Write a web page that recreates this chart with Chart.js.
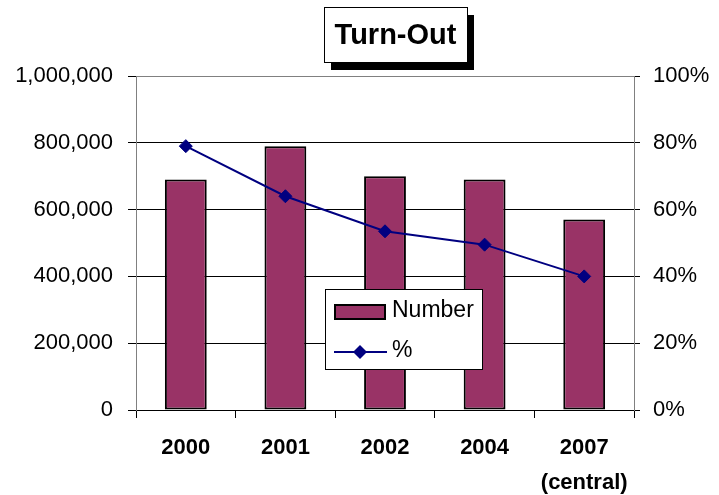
<!DOCTYPE html>
<html>
<head>
<meta charset="utf-8">
<script src="https://cdn.jsdelivr.net/npm/chart.js@4/dist/chart.umd.min.js"></script>
<style>
html,body{margin:0;padding:0;background:#fff;}
#wrap{width:719px;height:495px;position:relative;}
</style>
</head>
<body>
<div id="wrap"><canvas id="c" width="719" height="495"></canvas></div>
<script>
const categories = ['2000', '2001', '2002', '2004', ['2007', '(central)']];
const numberValues = [690000, 790000, 700000, 690000, 570000];
const percentValues = [79, 64, 53.5, 49.5, 40];
const leftTicks = [0, 200000, 400000, 600000, 800000, 1000000];
const rightTicks = [0, 20, 40, 60, 80, 100];
const titleText = 'Turn-Out';
const seriesNames = ['Number', '%'];

const FONT = "'Liberation Sans', Arial, sans-serif";
const PLUM = '#993366';
const NAVY = '#000080';

const titleAndLegend = {
  id: 'titleAndLegend',
  afterDraw(chart) {
    const ctx = chart.ctx;
    ctx.save();
    // Title box with shadow
    const tx = 324, ty = 7, tw = 143, th = 55;
    ctx.fillStyle = '#000';
    ctx.fillRect(tx + 7, ty + 8, tw, th);
    ctx.fillStyle = '#fff';
    ctx.fillRect(tx, ty, tw, th);
    ctx.strokeStyle = '#000';
    ctx.lineWidth = 1;
    ctx.strokeRect(tx + 0.5, ty + 0.5, tw, th);
    ctx.fillStyle = '#000';
    ctx.font = 'bold 29px ' + FONT;
    ctx.textAlign = 'center';
    ctx.textBaseline = 'middle';
    ctx.fillText(titleText, tx + tw / 2, ty + th / 2 + 1);

    // Legend box
    const bar = chart.data.datasets.find(d => d.type === 'bar');
    const line = chart.data.datasets.find(d => d.type === 'line');
    const lx = 325, ly = 289, lw = 157, lh = 80;
    ctx.fillStyle = '#fff';
    ctx.fillRect(lx, ly, lw, lh);
    ctx.strokeStyle = '#000';
    ctx.lineWidth = 1;
    ctx.strokeRect(lx + 0.5, ly + 0.5, lw, lh);
    ctx.fillStyle = bar.backgroundColor;
    ctx.fillRect(335, 305, 50, 14);
    ctx.lineWidth = 2;
    ctx.strokeStyle = bar.borderColor;
    ctx.strokeRect(335, 305, 50, 14);
    ctx.fillStyle = '#000';
    ctx.font = '23px ' + FONT;
    ctx.textAlign = 'left';
    ctx.textBaseline = 'middle';
    ctx.fillText(bar.label, 392, 311);
    ctx.strokeStyle = line.borderColor;
    ctx.lineWidth = 2;
    ctx.beginPath();
    ctx.moveTo(334, 352);
    ctx.lineTo(387, 352);
    ctx.stroke();
    ctx.fillStyle = line.pointBackgroundColor;
    ctx.beginPath();
    ctx.moveTo(360, 345); ctx.lineTo(367, 352); ctx.lineTo(360, 359); ctx.lineTo(353, 352);
    ctx.closePath();
    ctx.fill();
    ctx.fillStyle = '#000';
    ctx.fillText(line.label, 392, 351);
    ctx.restore();
  }
};

new Chart(document.getElementById('c'), {
  data: {
    labels: categories,
    datasets: [
      {
        type: 'line',
        label: seriesNames[1],
        data: percentValues,
        yAxisID: 'y2',
        borderColor: NAVY,
        backgroundColor: NAVY,
        borderWidth: 2,
        pointStyle: 'rectRot',
        pointRadius: 6.5,
        pointBackgroundColor: NAVY,
        pointBorderColor: NAVY,
        pointBorderWidth: 1,
        tension: 0,
        order: 0
      },
      {
        type: 'bar',
        label: seriesNames[0],
        data: numberValues,
        yAxisID: 'y',
        backgroundColor: PLUM,
        borderColor: '#000',
        borderWidth: 2,
        borderSkipped: false,
        categoryPercentage: 1,
        barPercentage: 0.42,
        order: 1
      }
    ]
  },
  options: {
    responsive: false,
    animation: false,
    layout: { padding: { top: 76, left: 0, right: 0, bottom: 0 } },
    plugins: { legend: { display: false }, title: { display: false }, tooltip: { enabled: false } },
    scales: {
      x: {
        offset: true,
        afterFit(s) { s.height = 85; },
        grid: { display: true, offset: true, drawOnChartArea: false, drawTicks: true, tickLength: 8, color: '#000', tickColor: '#000' },
        border: { display: true, color: '#000', width: 1 },
        ticks: { color: '#000', font: { family: FONT, size: 22, weight: 'bold', lineHeight: 1.6 }, padding: 12, maxRotation: 0, autoSkip: false }
      },
      y: {
        position: 'left',
        min: 0, max: 1000000,
        afterFit(s) { s.width = 136; },
        afterBuildTicks(s) { s.ticks = leftTicks.map(v => ({ value: v })); },
        grid: {
          color: ctx => (ctx.tick && ctx.tick.value === 1000000) ? '#808080' : '#000',
          tickColor: '#000', tickLength: 8, drawTicks: true
        },
        border: { display: true, color: '#808080', width: 1 },
        ticks: {
          color: '#000', padding: 15,
          font: { family: FONT, size: 22 },
          callback: v => v.toLocaleString('en-US')
        }
      },
      y2: {
        position: 'right',
        min: 0, max: 100,
        afterFit(s) { s.width = 85; },
        afterBuildTicks(s) { s.ticks = rightTicks.map(v => ({ value: v })); },
        grid: { drawOnChartArea: false, drawTicks: true, tickLength: 6, tickColor: '#000' },
        border: { display: true, color: '#808080', width: 1 },
        ticks: { color: '#000', padding: 13, font: { family: FONT, size: 22 }, callback: v => v + '%' }
      }
    }
  },
  plugins: [titleAndLegend]
});
</script>
</body>
</html>
